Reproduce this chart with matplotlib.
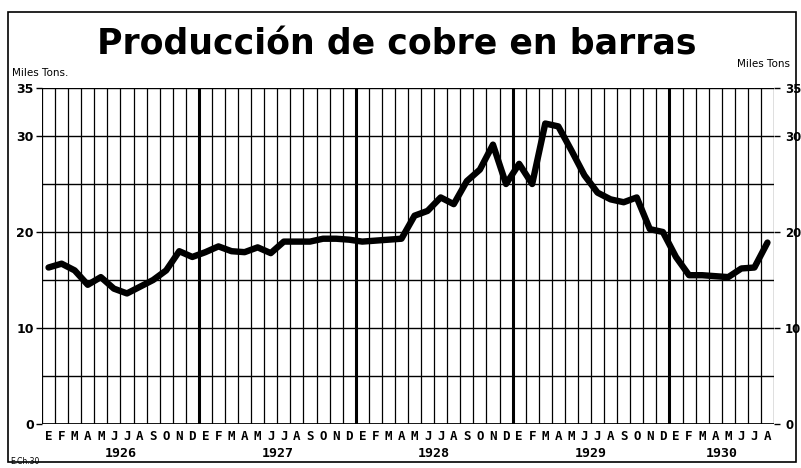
import numpy as np
import matplotlib
matplotlib.use("Agg")
import matplotlib.pyplot as plt
from matplotlib.patches import Rectangle

# monthly production, thousand tons, Jan 1926 .. Aug 1930
years = [1926, 1927, 1928, 1929, 1930]
month_letters = ["E", "F", "M", "A", "M", "J", "J", "A", "S", "O", "N", "D"]
production = [
    16.3, 16.7, 16.0, 14.5, 15.3, 14.1, 13.6, 14.3, 15.0, 16.0, 18.0, 17.4,  # 1926
    17.9, 18.5, 18.0, 17.9, 18.4, 17.8, 19.0, 19.0, 19.0, 19.3, 19.3, 19.2,  # 1927
    19.0, 19.1, 19.2, 19.3, 21.7, 22.2, 23.6, 22.9, 25.3, 26.5, 29.1, 25.0,  # 1928
    27.1, 25.0, 31.3, 31.0, 28.5, 25.9, 24.1, 23.4, 23.1, 23.6, 20.3, 20.0,  # 1929
    17.4, 15.5, 15.5, 15.4, 15.3, 16.2, 16.3, 18.9,                          # 1930
]
y_ticks = [0, 10, 20, 30, 35]

n = len(production)
x = np.arange(n)

fig = plt.figure(figsize=(8.01, 4.68), dpi=100)
ax = fig.add_axes([42 / 801, 44 / 468, 732 / 801, 336 / 468])

# grid: horizontal every 5, vertical at each month boundary, heavier at years
for v in range(0, 36, 5):
    ax.axhline(v, color="black", lw=1.0 if v else 2.0, zorder=1)
for b in np.arange(-0.5, n, 1.0):
    heavy = (b + 0.5) % 12 == 0 and 0 < b < n - 1
    ax.axvline(b, color="black", lw=2.2 if heavy else 0.9, zorder=1)

ax.plot(x, production, color="black", lw=4.6, solid_capstyle="round",
        solid_joinstyle="round", zorder=3)

ax.set_xlim(-0.5, n - 0.5)
ax.set_ylim(0, 35)
for s in ax.spines.values():
    s.set_visible(False)

ax.set_xticks(x)
ax.set_xticklabels([month_letters[i % 12] for i in x], fontsize=9,
                   fontweight="bold", family="DejaVu Sans Mono")
ax.tick_params(axis="x", length=0, pad=4)

ax.set_yticks(y_ticks)
ax.set_yticklabels([str(t) for t in y_ticks], fontsize=9, fontweight="bold")
ax.tick_params(axis="y", length=4, width=1, pad=2, direction="out")

# right hand scale, set a little away from the frame
axr = ax.twinx()
axr.set_ylim(ax.get_ylim())
axr.set_yticks(y_ticks)
axr.set_yticklabels([str(t) for t in y_ticks], fontsize=8.5, fontweight="bold")
axr.tick_params(axis="y", length=4, width=1, pad=4, direction="out")
for s in axr.spines.values():
    s.set_visible(False)

for k, yr in enumerate(years):
    start = k * 12
    stop = min(start + 12, n)
    ax.text((start + stop - 1) / 2, -2.4, str(yr), ha="center", va="top",
            fontsize=9.5, fontweight="bold", family="DejaVu Sans Mono")

fig.text(0.495, 0.905, "Producción de cobre en barras", ha="center",
         va="center", fontsize=25, fontweight="bold", family="DejaVu Sans")
fig.text(12 / 801, 1 - 73 / 468, "Miles Tons.", fontsize=7.5, va="center")
fig.text(790 / 801, 1 - 64 / 468, "Miles Tons", fontsize=7.5, va="center",
         ha="right")
fig.text(10 / 801, 1 - 461 / 468, "E.Ch.30", fontsize=5.5, va="center")

fig.patches.append(Rectangle((8 / 801, 6 / 468), 788 / 801, 450 / 468,
                             transform=fig.transFigure, fill=False,
                             edgecolor="black", lw=1.2))

fig.savefig("out.png", dpi=100)
